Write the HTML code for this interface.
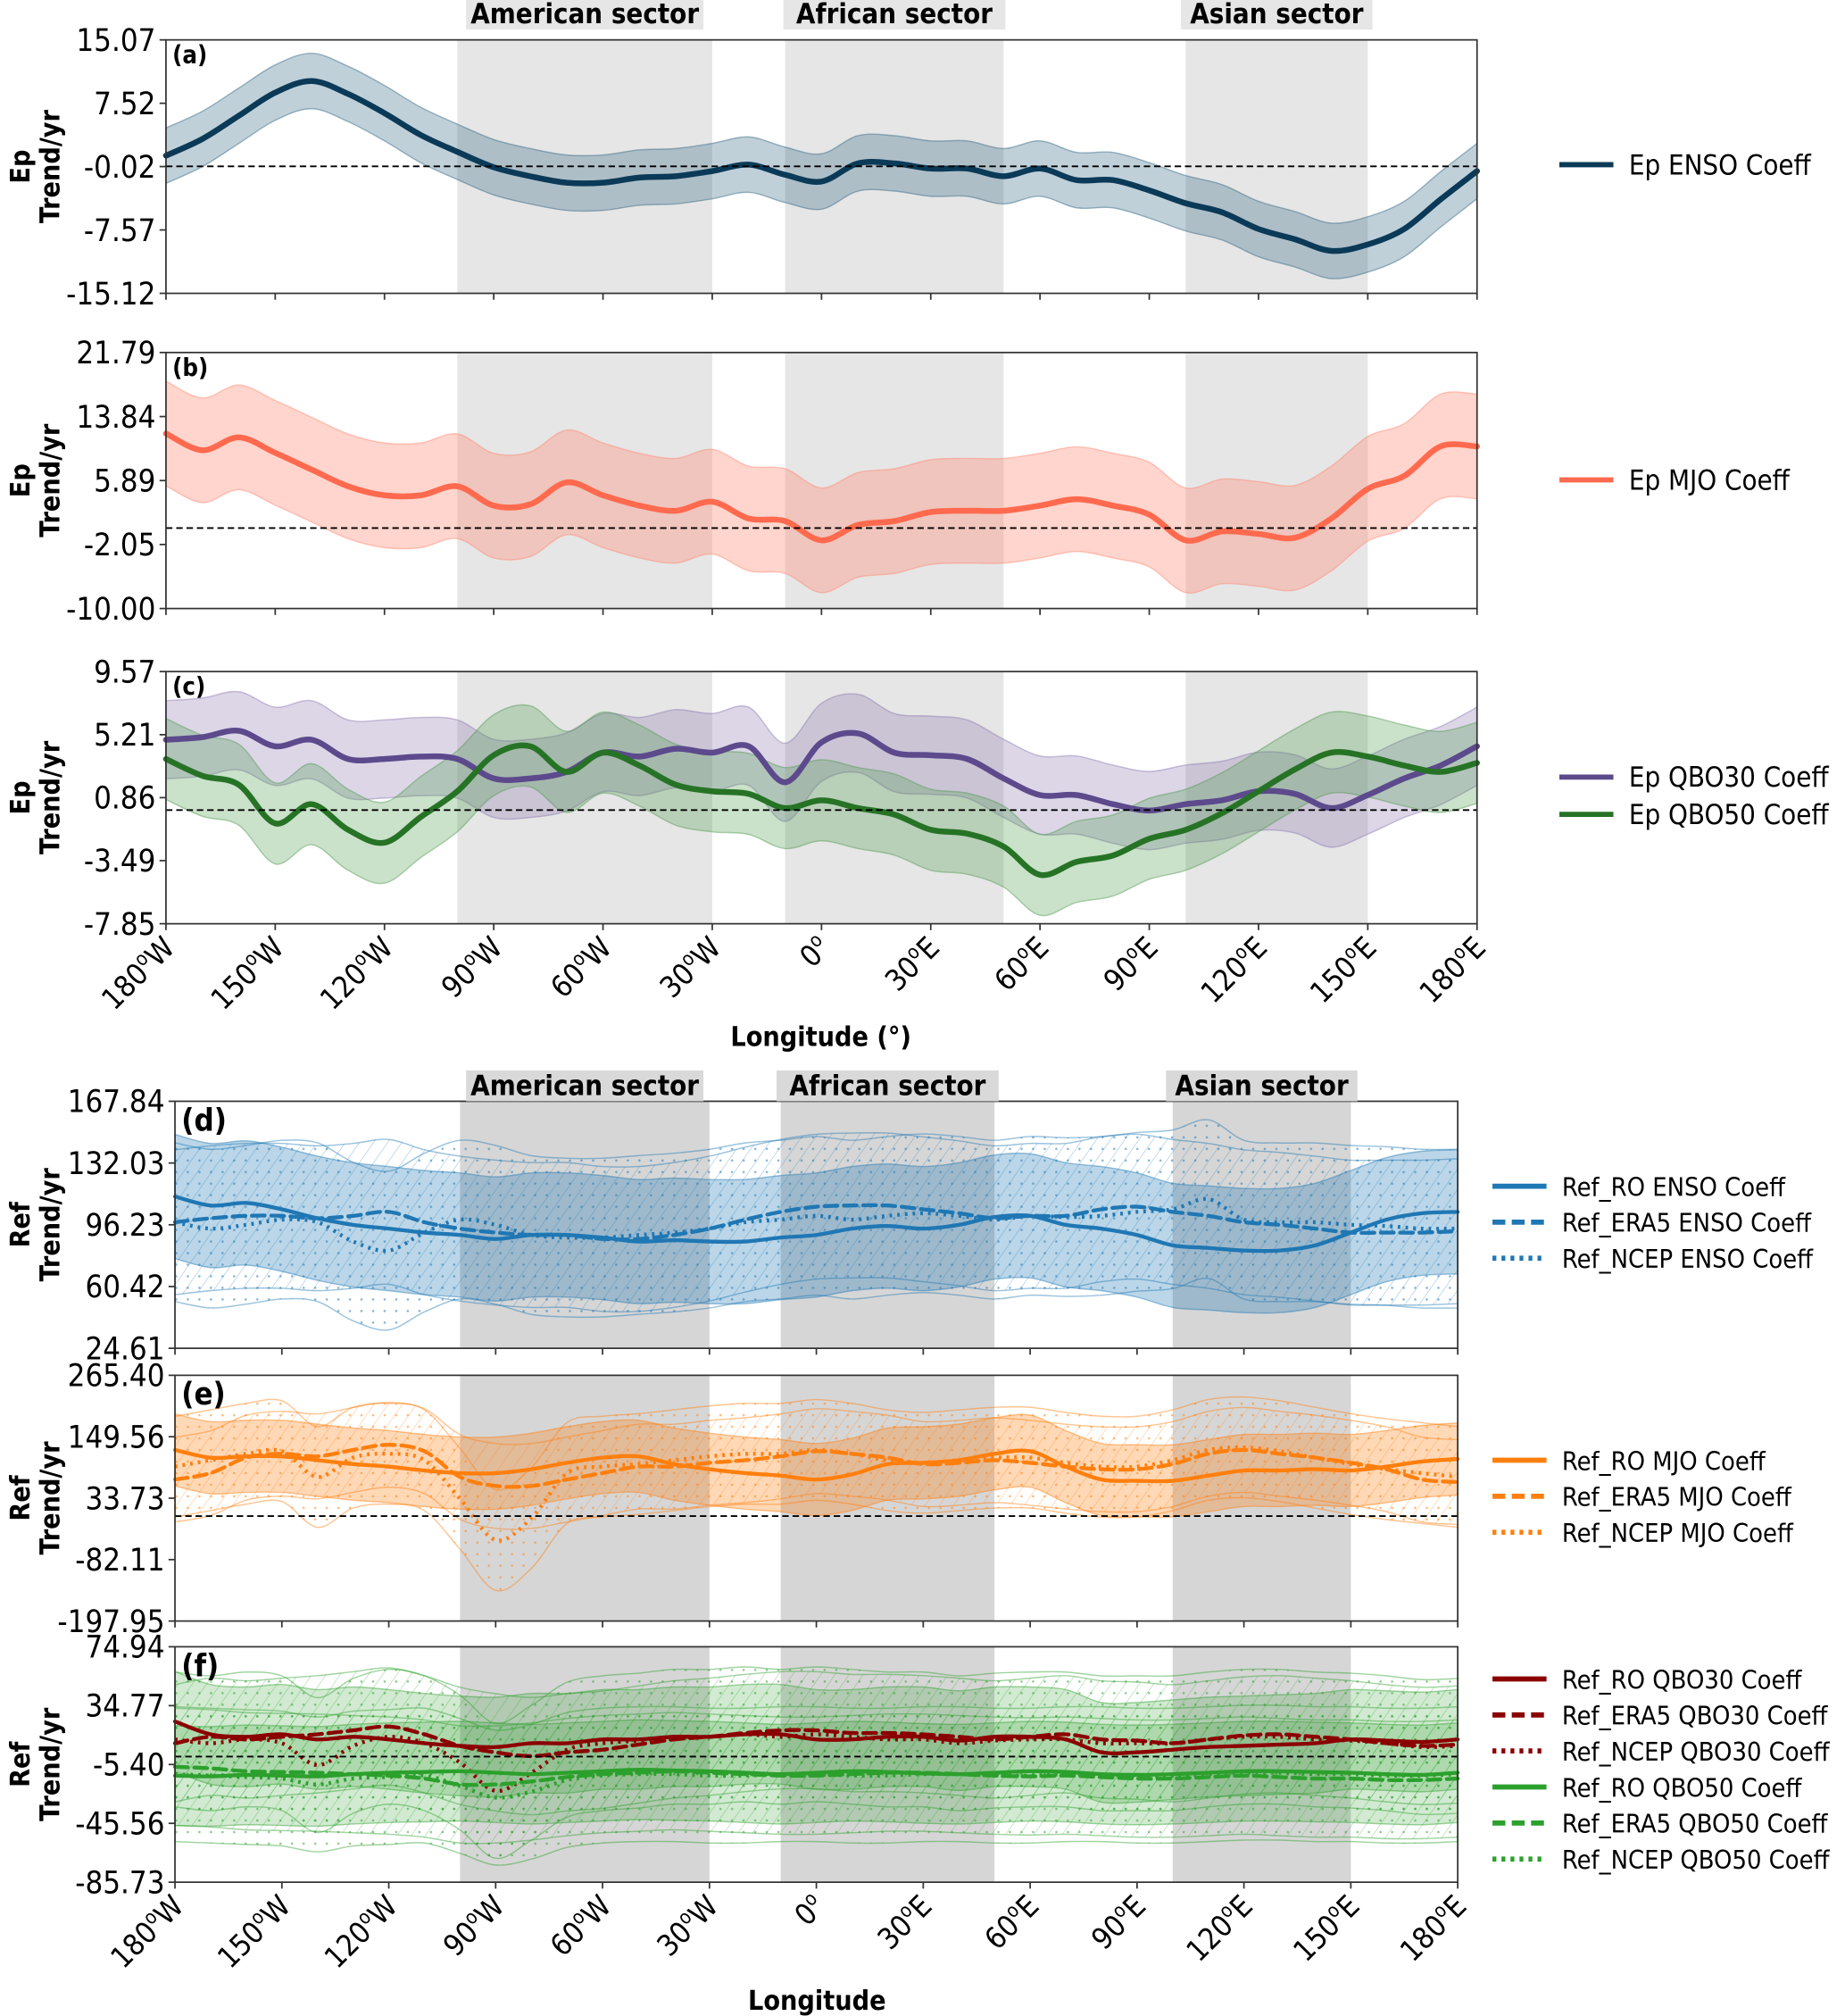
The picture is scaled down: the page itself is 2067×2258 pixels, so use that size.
<!DOCTYPE html>
<html><head><meta charset="utf-8"><style>
html,body{margin:0;padding:0;background:#fff;}
svg{display:block;}
text{font-family:"DejaVu Sans Condensed","DejaVu Sans","Liberation Sans",sans-serif;}
</style></head><body>
<svg id="fig" xmlns="http://www.w3.org/2000/svg" width="2067" height="2258" viewBox="0 0 1434 1567" preserveAspectRatio="none">
<defs>
<pattern id="hatch-blue" patternUnits="userSpaceOnUse" width="9" height="9" patternTransform="rotate(35)"><line x1="0" y1="0" x2="0" y2="9" stroke="#1f77b4" stroke-opacity="0.45" stroke-width="0.8"/></pattern>
<pattern id="dots-blue" patternUnits="userSpaceOnUse" width="9" height="9"><circle cx="2" cy="2" r="0.9" fill="#1f77b4" fill-opacity="0.55"/></pattern>
<pattern id="hatch-orange" patternUnits="userSpaceOnUse" width="9" height="9" patternTransform="rotate(35)"><line x1="0" y1="0" x2="0" y2="9" stroke="#ff7f0e" stroke-opacity="0.45" stroke-width="0.8"/></pattern>
<pattern id="dots-orange" patternUnits="userSpaceOnUse" width="9" height="9"><circle cx="2" cy="2" r="0.9" fill="#ff7f0e" fill-opacity="0.55"/></pattern>
<pattern id="hatch-green" patternUnits="userSpaceOnUse" width="9" height="9" patternTransform="rotate(35)"><line x1="0" y1="0" x2="0" y2="9" stroke="#2ca02c" stroke-opacity="0.45" stroke-width="0.8"/></pattern>
<pattern id="dots-green" patternUnits="userSpaceOnUse" width="9" height="9"><circle cx="2" cy="2" r="0.9" fill="#2ca02c" fill-opacity="0.55"/></pattern>
</defs>
</svg>
<script>
// ---- data (longitude -180..180 step 10) ----
const lons = [-180,-170,-160,-150,-140,-130,-120,-110,-100,-90,-80,-70,-60,-50,-40,-30,-20,-10,0,10,20,30,40,50,60,70,80,90,100,110,120,130,140,150,160,170,180];
const sectorNames = ["American sector","African sector","Asian sector"];
const sectorStart = [-100,-10,100];
const sectorEnd = [-30,50,150];
const xTickLons = [-180,-150,-120,-90,-60,-30,0,30,60,90,120,150,180];
const xTickText = ["180","150","120","90","60","30","0","30","60","90","120","150","180"];
const xTickSuffix = ["W","W","W","W","W","W","","E","E","E","E","E","E"];

const ticksA = [15.07,7.52,-0.02,-7.57,-15.12];
const ticksB = [21.79,13.84,5.89,-2.05,-10.00];
const ticksC = [9.57,5.21,0.86,-3.49,-7.85];
const ticksD = [167.84,132.03,96.23,60.42,24.61];
const ticksE = [265.40,149.56,33.73,-82.11,-197.95];
const ticksF = [74.94,34.77,-5.40,-45.56,-85.73];

const epENSO = [1.28,3.27,6.03,8.79,10.17,8.63,6.34,3.73,1.74,-0.10,-1.17,-1.94,-1.94,-1.33,-1.17,-0.56,0.21,-1.0,-1.8,0.36,0.36,-0.26,-0.26,-1.17,-0.26,-1.63,-1.63,-2.86,-4.39,-5.47,-7.46,-8.68,-10.06,-9.30,-7.46,-3.93,-0.56];
const epENSOerr = 3.3;
const epMJO = [11.73,9.65,11.25,9.33,7.25,5.18,4.06,4.06,5.18,2.78,2.94,5.66,4.06,2.78,2.14,3.26,1.18,0.86,-1.53,0.38,0.86,1.98,2.14,2.14,2.78,3.58,2.78,1.66,-1.53,-0.42,-0.74,-1.21,1.18,4.86,6.46,10.13,10.13];
const epMJOerr = 6.5;
const epQBO30 = [4.86,5.04,5.48,4.41,4.86,3.53,3.53,3.70,3.53,2.19,2.19,2.64,3.97,3.70,4.24,3.97,4.41,1.92,4.68,5.30,3.97,3.79,3.53,2.19,1.04,1.04,0.41,-0.03,0.41,0.68,1.30,1.12,0.14,1.04,2.19,3.08,4.41];
const epQBO30err = 2.7;
const epQBO50 = [3.53,2.37,1.75,-0.92,0.41,-1.36,-2.25,-0.47,1.30,3.79,4.41,2.64,3.97,3.08,1.75,1.30,1.12,0.14,0.68,0.14,-0.31,-1.36,-1.63,-2.52,-4.47,-3.58,-3.14,-1.98,-1.36,-0.21,1.30,2.81,3.97,3.70,3.08,2.64,3.26];
const epQBO50err = 2.8;

const roENSO = [112.6,107.4,108.9,105.2,100.0,96.2,94.0,91.7,90.3,88.0,90.3,90.3,88.8,86.5,87.3,86.5,86.5,88.8,90.3,94.0,95.5,94.0,96.2,100.7,101.4,96.2,94.0,90.3,84.3,82.8,81.3,81.3,84.3,91.7,99.2,102.9,103.7];
const era5ENSO = [97.7,100.0,101.4,101.4,100.0,101.4,103.7,97.7,94.0,91.7,90.3,90.3,88.0,88.0,90.3,94.0,99.2,103.7,106.7,107.4,107.4,105.2,102.9,100.0,101.4,101.4,105.2,106.7,103.7,101.4,97.7,96.2,94.0,91.7,91.7,91.7,92.5];
const ncepENSO = [97.7,94.0,96.2,99.2,97.7,86.5,81.3,91.7,99.2,96.2,90.3,88.8,88.8,90.3,91.7,94.0,97.7,99.2,101.4,99.2,101.4,102.9,101.4,99.2,101.4,100.7,101.4,103.7,105.2,111.1,99.2,97.7,97.7,96.2,95.5,94.0,94.0];
const ensoErr = [36,42,46];

const roMJO = [124.7,110.1,112.6,112.6,105.3,98.0,93.2,85.9,81.0,81.0,88.3,100.4,110.1,112.6,98.0,88.3,81.0,76.2,68.9,78.6,98.0,100.4,105.3,117.4,122.3,93.2,68.9,66.5,66.5,76.2,85.9,85.9,88.3,85.9,93.2,102.9,107.7];
const era5MJO = [68.9,81.0,110.1,117.4,112.6,124.7,134.4,122.3,73.7,56.8,56.8,68.9,81.0,93.2,93.2,100.4,105.3,112.6,122.3,117.4,110.1,98.0,100.4,105.3,100.4,93.2,88.3,88.3,98.0,117.4,124.7,117.4,110.1,100.4,88.3,68.9,64.0];
const ncepMJO = [93.2,105.3,117.4,122.3,73.7,110.1,117.4,105.3,32.5,-45.1,-3.9,81.0,93.2,98.0,105.3,112.6,117.4,117.4,124.7,117.4,105.3,100.4,105.3,110.1,110.1,100.4,93.2,93.2,105.3,124.7,129.5,122.3,110.1,98.0,88.3,81.0,73.7];
const mjoErr = [68,80,95];

const roQBO30 = [24.0,15.2,13.5,15.2,11.7,13.5,11.7,9.1,7.3,6.5,9.1,9.1,11.7,11.7,13.5,13.5,15.2,15.2,11.7,11.7,13.5,13.5,10.9,13.5,13.5,11.7,2.9,2.9,4.7,6.5,7.3,8.2,9.1,11.7,10.9,10.0,11.7];
const era5QBO30 = [9.1,13.5,11.7,13.5,15.2,17.9,20.5,15.2,7.3,2.9,0.3,2.9,4.7,8.2,11.7,13.5,16.1,17.9,17.9,16.1,16.1,15.2,13.5,11.7,13.5,15.2,11.7,10.9,9.1,11.7,14.4,15.2,13.5,11.7,9.1,7.3,8.2];
const ncepQBO30 = [11.7,9.1,11.7,9.1,-5.8,7.3,13.5,9.1,-4.1,-23.4,-11.1,4.7,9.1,10.9,13.5,13.5,15.2,13.5,15.2,13.5,11.7,11.7,9.1,10.9,11.7,11.7,9.1,9.1,9.1,11.7,13.5,13.5,11.7,10.9,9.1,6.5,7.3];
const roQBO50 = [-13,-13.5,-12.5,-13,-13.5,-12,-11,-10.5,-10,-11,-12,-11,-10,-9,-9.5,-10,-11,-12,-11,-10,-10.5,-11.5,-12,-11,-10,-10.5,-12,-12.5,-12,-11,-10,-10,-10.5,-11,-12,-12.5,-11];
const era5QBO50 = [-7,-8,-10,-10.5,-11,-12,-13,-15,-19,-19,-17,-14,-12,-11,-10,-11,-12,-13,-13,-12,-11,-11,-12,-13,-13.5,-13,-14,-15,-15,-14,-13,-14,-15,-15,-16,-16,-15];
const ncepQBO50 = [-12,-13,-14,-15,-19,-15,-14,-13,-20,-28,-24,-16,-13,-12,-12,-13,-13,-12,-12,-13,-13,-12,-12,-13,-13,-12,-12,-13,-13,-12,-11,-11,-12,-12,-13,-13,-12];
const qboErr = [34,40,46];

// ---- drawing ----
const NS = "http://www.w3.org/2000/svg";
const svg = document.getElementById("fig");
function mk(tag, attrs, parent){
  const e = document.createElementNS(NS, tag);
  for (const k in attrs) e.setAttribute(k, attrs[k]);
  (parent||svg).appendChild(e);
  return e;
}
function smoothPath(pts){
  let d = "M" + pts[0][0].toFixed(2) + "," + pts[0][1].toFixed(2);
  for (let i=0;i<pts.length-1;i++){
    const p0=pts[Math.max(0,i-1)], p1=pts[i], p2=pts[i+1], p3=pts[Math.min(pts.length-1,i+2)];
    const c1=[p1[0]+(p2[0]-p0[0])/6, p1[1]+(p2[1]-p0[1])/6];
    const c2=[p2[0]-(p3[0]-p1[0])/6, p2[1]-(p3[1]-p1[1])/6];
    d += "C"+c1[0].toFixed(2)+","+c1[1].toFixed(2)+" "+c2[0].toFixed(2)+","+c2[1].toFixed(2)+" "+p2[0].toFixed(2)+","+p2[1].toFixed(2);
  }
  return d;
}
function smoothCont(pts){ return smoothPath(pts).replace(/^M/,"L"); }

function makePanel(p){
  const g = mk("g",{});
  
  
  const xs = lon => p.l + (lon+180)/360*(p.r-p.l);
  const ys = v => p.t + (p.ymax - v)/(p.ymax - p.ymin)*(p.b-p.t);
  p.xs = xs; p.ys = ys;
  for (let i=0;i<sectorStart.length;i++){
    const rc = mk("rect",{x:xs(sectorStart[i]), y:p.t, width:xs(sectorEnd[i])-xs(sectorStart[i]), height:p.b-p.t, fill:p.shade}, g);
    
    
  }
  return g;
}
function drawBand(p, g, vals, err, fill, opacity, stroke){
  const up = vals.map((v,i)=>[p.xs(lons[i]), p.ys(v+err)]);
  const lo = vals.map((v,i)=>[p.xs(lons[i]), p.ys(v-err)]).reverse();
  const d = smoothPath(up) + smoothCont(lo) + "Z";
  const e = mk("path",{d:d, fill:fill, "fill-opacity":opacity, stroke:stroke||"none", "stroke-opacity":0.45, "stroke-width":1}, g);
  
  
}
function drawLine(p, g, vals, color, width, dash, name){
  const pts = vals.map((v,i)=>[p.xs(lons[i]), p.ys(v)]);
  const e = mk("path",{d:smoothPath(pts), fill:"none", stroke:color, "stroke-width":width, "stroke-dasharray":dash||"none", "stroke-linecap":dash==="2,4"?"butt":"round"}, g);
  
  
}
function finishPanel(p, g, ticks, letter, letterSize, showXLabels, labelTop, labelBot){
  if (p.ymin < 0 && p.ymax > 0){
    const z = mk("line",{x1:p.l, x2:p.r, y1:p.ys(0), y2:p.ys(0), stroke:"#000", "stroke-width":1.3, "stroke-dasharray":"5,3"}, g);
    
    
  }
  const fr = mk("rect",{x:p.l, y:p.t, width:p.r-p.l, height:p.b-p.t, fill:"none", stroke:"#333", "stroke-width":1.2}, g);
  
  
  ticks.forEach(v=>{
    const y = p.ys(v);
    mk("line",{x1:p.l-5, x2:p.l, y1:y, y2:y, stroke:"#333", "stroke-width":1.2}, g);
    const t = mk("text",{x:p.l-8, y:y+8.5, "text-anchor":"end", "font-size":24, fill:"#000"}, g);
    
    
    t.textContent = v.toFixed(2);
  });
  xTickLons.forEach((lon,i)=>{
    const x = p.xs(lon);
    mk("line",{x1:x, x2:x, y1:p.b, y2:p.b+5, stroke:"#333", "stroke-width":1.2}, g);
    if (showXLabels){
      const t = mk("text",{"text-anchor":"end", "font-size":23, fill:"#000", transform:"translate("+(x+8)+","+(p.b+20)+") rotate(-45)"}, g);
      
      
      const a = document.createElementNS(NS,"tspan"); a.textContent = xTickText[i]; t.appendChild(a);
      const s = document.createElementNS(NS,"tspan"); s.setAttribute("font-size","15"); s.setAttribute("dy","-9"); s.textContent="o"; t.appendChild(s);
      const c = document.createElementNS(NS,"tspan"); c.setAttribute("dy","9"); c.textContent = xTickSuffix[i]; t.appendChild(c);
    }
  });
  const lt = mk("text",{x:p.l+5, y:p.t+letterSize*0.95, "font-size":letterSize, "font-weight":"bold", fill:"#000"}, g);
  
  
  lt.textContent = letter;
  const cy = (p.t+p.b)/2;
  const yl = mk("text",{transform:"translate(27,"+cy+") rotate(-90)", "text-anchor":"middle", "font-size":21, "font-weight":"bold", fill:"#000"}, g);
  
  
  const l1 = document.createElementNS(NS,"tspan"); l1.setAttribute("x","0"); l1.setAttribute("dy","-4"); l1.textContent = labelTop; yl.appendChild(l1);
  const l2 = document.createElementNS(NS,"tspan"); l2.setAttribute("x","0"); l2.setAttribute("dy","23"); l2.textContent = labelBot; yl.appendChild(l2);
}
function legend(entries, x0, y0, step, fs){
  const g = mk("g",{});
  
  
  entries.forEach((en,i)=>{
    const y = y0 + i*step;
    const ln = mk("line",{x1:x0, x2:x0+42, y1:y, y2:y, stroke:en[1], "stroke-width":4, "stroke-dasharray":en[2]||"none"}, g);
    
    
    const t = mk("text",{x:x0+54, y:y+7.5, "font-size":fs, fill:"#000"}, g);
    
    
    t.textContent = en[0];
  });
}
function sectorLabels(p, yTop, h, fill){
  sectorNames.forEach((n,i)=>{
    const x1 = p.xs(sectorStart[i]), x2 = p.xs(sectorEnd[i]);
    const cx = (x1+x2)/2;
    const w = n.length*11.9;
    const bg = mk("rect",{x:cx-w/2-3, y:yTop, width:w+6, height:h, fill:fill});
    
    
    const t = mk("text",{x:cx, y:yTop+h-5, "text-anchor":"middle", "font-size":21.5, "font-weight":"bold", fill:"#000"});
    
    
    t.textContent = n;
  });
}

// Panel a
const pa = {name:"panel-a", l:129, r:1148, t:31, b:228, ymin:-15.12, ymax:15.07, shade:"#e6e6e6"};
let g = makePanel(pa);
drawBand(pa, g, epENSO, epENSOerr, "#2e6480", 0.3, "#2e6480");
drawLine(pa, g, epENSO, "#0a3a57", 4.5, null, "ep-enso-line");
finishPanel(pa, g, ticksA, "(a)", 19, false, "Ep", "Trend/yr");
sectorLabels(pa, 0, 23, "#e6e6e6");
legend([["Ep ENSO Coeff","#0a3a57"]], 1212, 128, 28, 21.5);

// Panel b
const pb = {name:"panel-b", l:129, r:1148, t:274, b:473, ymin:-10.0, ymax:21.79, shade:"#e6e6e6"};
g = makePanel(pb);
drawBand(pb, g, epMJO, epMJOerr, "#ff8870", 0.35, "#ff8870");
drawLine(pb, g, epMJO, "#ff6a4f", 4.5, null, "ep-mjo-line");
finishPanel(pb, g, ticksB, "(b)", 19, false, "Ep", "Trend/yr");
legend([["Ep MJO Coeff","#ff6a4f"]], 1212, 373, 28, 21.5);

// Panel c
const pc = {name:"panel-c", l:129, r:1148, t:522, b:718, ymin:-7.85, ymax:9.57, shade:"#e6e6e6"};
g = makePanel(pc);
drawBand(pc, g, epQBO30, epQBO30err, "#8a76b0", 0.3, "#8a76b0");
drawBand(pc, g, epQBO50, epQBO50err, "#4f9a4f", 0.3, "#4f9a4f");
drawLine(pc, g, epQBO30, "#5c4a8c", 4.5, null, "ep-qbo30-line");
drawLine(pc, g, epQBO50, "#267326", 4.5, null, "ep-qbo50-line");
finishPanel(pc, g, ticksC, "(c)", 19, true, "Ep", "Trend/yr");
legend([["Ep QBO30 Coeff","#5c4a8c"],["Ep QBO50 Coeff","#267326"]], 1212, 604, 29, 21.5);
let xt = mk("text",{x:638, y:813, "text-anchor":"middle", "font-size":21, "font-weight":"bold"});


xt.textContent = "Longitude (°)";

// Panel d
const pd = {name:"panel-d", l:136, r:1133, t:856, b:1048, ymin:24.61, ymax:167.84, shade:"#d6d6d6"};
g = makePanel(pd);
drawBand(pd, g, ncepENSO, ensoErr[2], "url(#dots-blue)", 1, "#1f77b4");
drawBand(pd, g, era5ENSO, ensoErr[1], "url(#hatch-blue)", 1, "#1f77b4");
drawBand(pd, g, roENSO, ensoErr[0], "#1f77b4", 0.3, "#1f77b4");
drawLine(pd, g, roENSO, "#1f77b4", 3, null, "ref-ro-enso-line");
drawLine(pd, g, era5ENSO, "#1f77b4", 3, "10,5", "ref-era5-enso-line");
drawLine(pd, g, ncepENSO, "#1f77b4", 3, "2,4", "ref-ncep-enso-line");
finishPanel(pd, g, ticksD, "(d)", 24, false, "Ref", "Trend/yr");
sectorLabels(pd, 832, 24, "#d9d9d9");
legend([["Ref_RO ENSO Coeff","#1f77b4"],["Ref_ERA5 ENSO Coeff","#1f77b4","10,5"],["Ref_NCEP ENSO Coeff","#1f77b4","3,4"]], 1160, 922, 28, 20);

// Panel e
const pe = {name:"panel-e", l:136, r:1133, t:1069, b:1260, ymin:-197.95, ymax:265.40, shade:"#d6d6d6"};
g = makePanel(pe);
drawBand(pe, g, ncepMJO, mjoErr[2], "url(#dots-orange)", 1, "#ff7f0e");
drawBand(pe, g, era5MJO, mjoErr[1], "url(#hatch-orange)", 1, "#ff7f0e");
drawBand(pe, g, roMJO, mjoErr[0], "#ff7f0e", 0.3, "#ff7f0e");
drawLine(pe, g, roMJO, "#ff7f0e", 3, null, "ref-ro-mjo-line");
drawLine(pe, g, era5MJO, "#ff7f0e", 3, "10,5", "ref-era5-mjo-line");
drawLine(pe, g, ncepMJO, "#ff7f0e", 3, "2,4", "ref-ncep-mjo-line");
finishPanel(pe, g, ticksE, "(e)", 24, false, "Ref", "Trend/yr");
legend([["Ref_RO MJO Coeff","#ff7f0e"],["Ref_ERA5 MJO Coeff","#ff7f0e","10,5"],["Ref_NCEP MJO Coeff","#ff7f0e","3,4"]], 1160, 1135, 28, 20);

// Panel f
const pf = {name:"panel-f", l:136, r:1133, t:1280, b:1463, ymin:-85.73, ymax:74.94, shade:"#d6d6d6"};
g = makePanel(pf);
drawBand(pf, g, ncepQBO30, qboErr[2], "url(#dots-green)", 1, "#2ca02c");
drawBand(pf, g, era5QBO30, qboErr[1], "url(#hatch-green)", 1, "#2ca02c");
drawBand(pf, g, roQBO30, qboErr[0], "#2ca02c", 0.22, "#2ca02c");
drawBand(pf, g, ncepQBO50, qboErr[2], "url(#dots-green)", 1, "#2ca02c");
drawBand(pf, g, era5QBO50, qboErr[1], "url(#hatch-green)", 1, "#2ca02c");
drawBand(pf, g, roQBO50, qboErr[0], "#2ca02c", 0.22, "#2ca02c");
drawLine(pf, g, roQBO30, "#8b0000", 3, null, "ref-ro-qbo30-line");
drawLine(pf, g, era5QBO30, "#8b0000", 3, "10,5", "ref-era5-qbo30-line");
drawLine(pf, g, ncepQBO30, "#8b0000", 3, "2,4", "ref-ncep-qbo30-line");
drawLine(pf, g, roQBO50, "#2ca02c", 3, null, "ref-ro-qbo50-line");
drawLine(pf, g, era5QBO50, "#2ca02c", 3, "10,5", "ref-era5-qbo50-line");
drawLine(pf, g, ncepQBO50, "#2ca02c", 3, "2,4", "ref-ncep-qbo50-line");
finishPanel(pf, g, ticksF, "(f)", 24, true, "Ref", "Trend/yr");
legend([["Ref_RO QBO30 Coeff","#8b0000"],["Ref_ERA5 QBO30 Coeff","#8b0000","10,5"],["Ref_NCEP QBO30 Coeff","#8b0000","3,4"],["Ref_RO QBO50 Coeff","#2ca02c"],["Ref_ERA5 QBO50 Coeff","#2ca02c","10,5"],["Ref_NCEP QBO50 Coeff","#2ca02c","3,4"]], 1160, 1305, 28, 20);
xt = mk("text",{x:635, y:1562, "text-anchor":"middle", "font-size":21, "font-weight":"bold"});


xt.textContent = "Longitude";
</script>
</body></html>
